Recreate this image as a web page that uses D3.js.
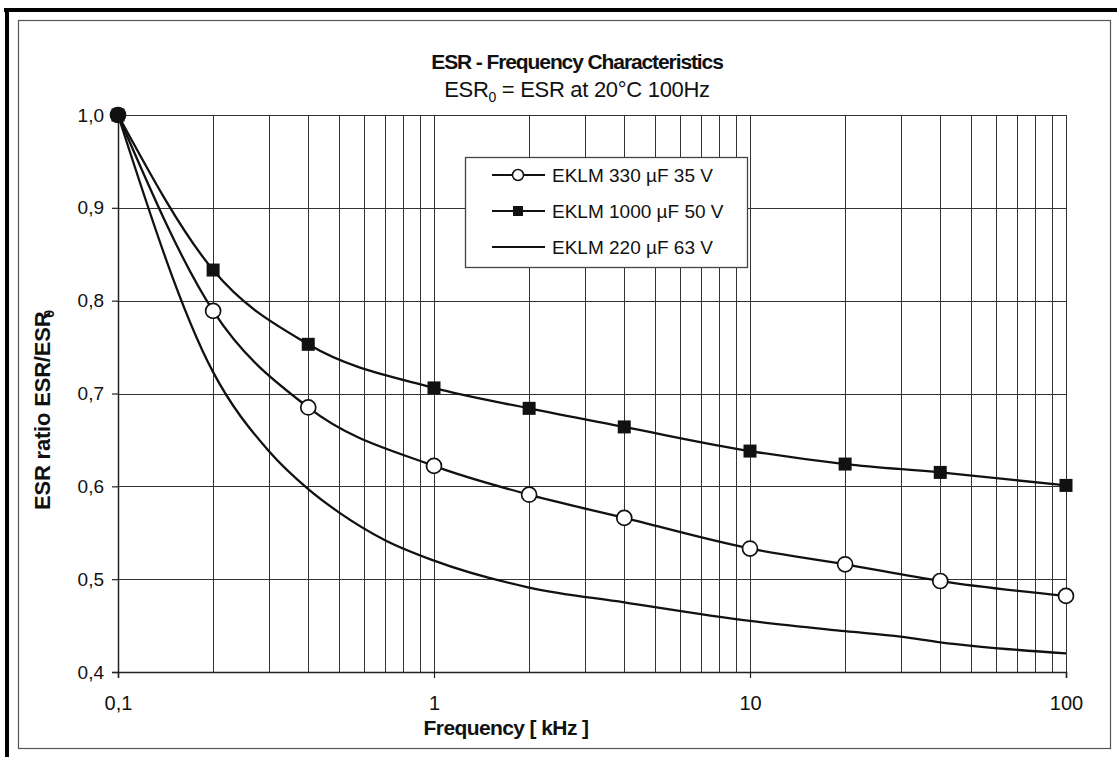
<!DOCTYPE html>
<html>
<head>
<meta charset="utf-8">
<script src="https://cdn.jsdelivr.net/npm/d3@7"></script>
<style>
  body { margin: 0; background: #fff; }
  svg text { font-family: "Liberation Sans", Arial, sans-serif; fill: #111; }
</style>
</head>
<body>
<div id="chart"></div>
<script>
// values
var freq = [0.1, 0.2, 0.4, 1, 2, 4, 10, 20, 40, 100];
var esr330 = [1.0, 0.789, 0.685, 0.622, 0.591, 0.566, 0.533, 0.516, 0.498, 0.482];
var esr1000 = [1.0, 0.833, 0.753, 0.706, 0.684, 0.664, 0.638, 0.624, 0.615, 0.601];
var freq220 = [0.1, 0.2, 0.3, 0.4, 0.5, 0.7, 1, 2, 4, 10, 20, 30, 40, 100];
var esr220 = [1.0, 0.723, 0.638, 0.597, 0.572, 0.542, 0.52, 0.491, 0.475, 0.455, 0.444, 0.438, 0.432, 0.42];
var yTicks = [0.4, 0.5, 0.6, 0.7, 0.8, 0.9, 1.0];
var xLabels = [0.1, 1, 10, 100];
var legendNames = ["EKLM 330 µF 35 V", "EKLM 1000 µF 50 V", "EKLM 220 µF 63 V"];

var w = 1117, h = 757;
var mLeft = 118, mRight = 1066, mTop = 115, mBottom = 672;

var loc = d3.formatLocale({decimal: ",", thousands: ".", grouping: [3], currency: ["", ""]});
var fmtY = loc.format(".1f");
var fmtX = function(d) { return d < 1 ? loc.format(".1f")(d) : String(d); };

var x = d3.scaleLog().domain([0.1, 100]).range([mLeft, mRight]),
    y = d3.scaleLinear().domain([0.4, 1.0]).range([mBottom, mTop]);

var svg = d3.select("#chart").append("svg")
    .attr("width", w)
    .attr("height", h);

// scanned page frame
svg.append("rect").attr("x", 18.5).attr("y", 20.5).attr("width", 1092).attr("height", 728)
    .style("fill", "none").style("stroke", "#555").style("stroke-width", 1.2);
svg.append("line").attr("x1", 4).attr("x2", w).attr("y1", 10).attr("y2", 10)
    .style("stroke", "#000").style("stroke-width", 4);
svg.append("line").attr("x1", 7).attr("x2", 7).attr("y1", 8).attr("y2", h)
    .style("stroke", "#000").style("stroke-width", 4);

// titles
svg.append("text").attr("x", 577).attr("y", 69).attr("text-anchor", "middle")
    .style("font-size", "21px").style("font-weight", "bold").style("letter-spacing", "-1.1px")
    .text("ESR - Frequency Characteristics");
var sub = svg.append("text").attr("x", 577).attr("y", 97).attr("text-anchor", "middle")
    .style("font-size", "22px").style("letter-spacing", "-0.3px");
sub.append("tspan").text("ESR");
sub.append("tspan").attr("dy", 5).style("font-size", "14px").text("0");
sub.append("tspan").attr("dy", -5).text(" = ESR at 20°C 100Hz");

// grid
var grid = svg.append("g");
grid.selectAll("line.v")
    .data(x.ticks())
  .enter().append("line")
    .attr("class", "v")
    .attr("x1", function(d) { return Math.round(x(d)) + 0.5; })
    .attr("x2", function(d) { return Math.round(x(d)) + 0.5; })
    .attr("y1", mTop).attr("y2", mBottom)
    .style("stroke", "#333").style("stroke-width", 1);
grid.selectAll("line.h")
    .data(yTicks)
  .enter().append("line")
    .attr("class", "h")
    .attr("x1", mLeft).attr("x2", mRight)
    .attr("y1", function(d) { return Math.round(y(d)) + 0.5; })
    .attr("y2", function(d) { return Math.round(y(d)) + 0.5; })
    .style("stroke", "#333").style("stroke-width", 1);

// axes
var yAxis = svg.append("g")
    .attr("transform", "translate(" + mLeft + ",0)")
    .call(d3.axisLeft(y).tickValues(yTicks).tickFormat(fmtY).tickSize(6).tickPadding(8));
var xAxis = svg.append("g")
    .attr("transform", "translate(0," + mBottom + ")")
    .call(d3.axisBottom(x).tickValues(xLabels).tickFormat(fmtX).tickSize(6).tickPadding(18));
[yAxis, xAxis].forEach(function(a) {
  a.select(".domain").style("stroke", "#222").style("stroke-width", 1.5);
  a.selectAll(".tick line").style("stroke", "#222").style("stroke-width", 1.2);
  a.selectAll("text").style("font-size", "19px").style("font-family", "\"Liberation Sans\", Arial, sans-serif").style("fill", "#111");
});
xAxis.selectAll("text").style("font-size", "20px");

svg.append("text").attr("x", 506).attr("y", 735).attr("text-anchor", "middle")
    .style("font-size", "21px").style("font-weight", "bold").style("letter-spacing", "-0.6px")
    .text("Frequency [ kHz ]");
var yl = svg.append("text")
    .attr("transform", "translate(50,410) rotate(-90)")
    .attr("text-anchor", "middle")
    .style("font-size", "22px").style("font-weight", "bold").style("letter-spacing", "-0.2px");
yl.append("tspan").text("ESR ratio ESR/ESR");
yl.append("tspan").attr("dx", -6).attr("dy", 4).style("font-size", "14px").text("0");

// lines
var line = d3.line()
    .x(function(d) { return x(d[0]); })
    .y(function(d) { return y(d[1]); })
    .curve(d3.curveMonotoneX);

var series = [
  {name: legendNames[0], pts: d3.zip(freq, esr330), mark: "circle"},
  {name: legendNames[1], pts: d3.zip(freq, esr1000), mark: "square"},
  {name: legendNames[2], pts: d3.zip(freq220, esr220), mark: "none"}
];

svg.selectAll("path.series")
    .data(series)
  .enter().append("path")
    .attr("class", "series")
    .attr("d", function(d) { return line(d.pts); })
    .style("fill", "none").style("stroke", "#111").style("stroke-width", 2.3);

svg.selectAll("circle.m")
    .data(series[0].pts)
  .enter().append("circle")
    .attr("class", "m")
    .attr("cx", function(d) { return x(d[0]); })
    .attr("cy", function(d) { return y(d[1]); })
    .attr("r", 7.5)
    .style("fill", "#fff").style("stroke", "#111").style("stroke-width", 1.7);

svg.selectAll("rect.m")
    .data(series[1].pts)
  .enter().append("rect")
    .attr("class", "m")
    .attr("x", function(d) { return x(d[0]) - 6.5; })
    .attr("y", function(d) { return y(d[1]) - 6.5; })
    .attr("width", 13).attr("height", 13)
    .style("fill", "#111");

// the first shared point shows as a solid dot in the scan
svg.append("circle")
    .attr("cx", x(freq[0])).attr("cy", y(esr330[0])).attr("r", 7.5)
    .style("fill", "#111");

// legend
var lg = svg.append("g");
lg.append("rect").attr("x", 465.5).attr("y", 157.5).attr("width", 282).attr("height", 110)
    .style("fill", "#fff").style("stroke", "#444").style("stroke-width", 1.3);
var rows = lg.selectAll("g.row")
    .data(series)
  .enter().append("g")
    .attr("class", "row")
    .attr("transform", function(d, i) { return "translate(0," + (175 + i * 36) + ")"; });
rows.append("line").attr("x1", 492).attr("x2", 545).attr("y1", 0).attr("y2", 0)
    .style("stroke", "#111").style("stroke-width", 2);
rows.filter(function(d) { return d.mark == "circle"; }).append("circle")
    .attr("cx", 518).attr("cy", 0).attr("r", 5.5)
    .style("fill", "#fff").style("stroke", "#111").style("stroke-width", 1.5);
rows.filter(function(d) { return d.mark == "square"; }).append("rect")
    .attr("x", 513).attr("y", -5).attr("width", 10).attr("height", 10)
    .style("fill", "#111");
rows.append("text").attr("x", 552).attr("y", 0).attr("dy", "0.36em")
    .style("font-size", "19px")
    .text(function(d) { return d.name; });
</script>
</body>
</html>
